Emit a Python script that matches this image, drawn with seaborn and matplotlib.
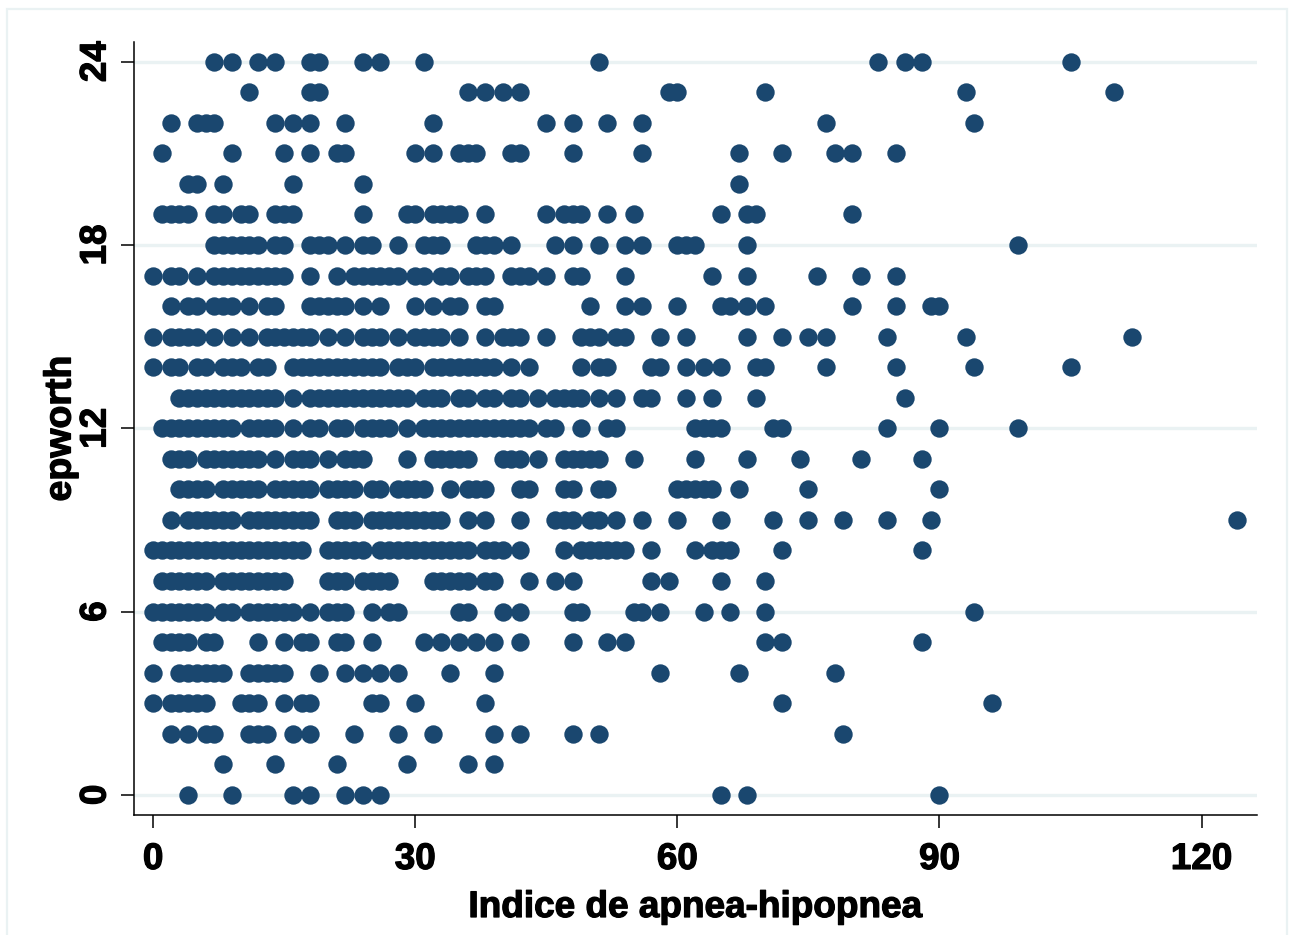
#!/usr/bin/env python3
# -*- coding: utf-8 -*-
"""Epworth score against apnea-hypopnea index, Stata s2color look."""

import pandas as pd
import seaborn as sns
import matplotlib.pyplot as plt
import matplotlib.patheffects as pe
from matplotlib.patches import Rectangle

# ============================================================================
# DATA - apnea index values seen on each epworth row
# ============================================================================
row_24 = [7, 9, 12, 14, 18, 19, 24, 26, 31, 51, 83, 86, 88, 105]
row_23 = [11, 18, 19, 36, 38, 40, 42, 59, 60, 70, 93, 110]
row_22 = [2, 5, 6, 7, 14, 16, 18, 22, 32, 45, 48, 52, 56, 77, 94]
row_21 = [1, 9, 15, 18, 21, 22, 30, 32, 35, 36, 37, 41, 42, 48, 56, 67, 72, 78, 80, 85]
row_20 = [4, 5, 8, 16, 24, 67]
row_19 = [1, 2, 3, 4, 7, 8, 10, 11, 14, 15, 16, 24, 29, 30, 32, 33, 34, 35, 38,
          45, 47, 48, 49, 52, 55, 65, 68, 69, 80]
row_18 = [7, 8, 9, 10, 11, 12, 14, 15, 18, 19, 20, 22, 24, 25, 28, 31, 32, 33,
          37, 38, 39, 41, 46, 48, 51, 54, 56, 60, 61, 62, 68, 99]
row_17 = [0, 2, 3, 5, 7, 8, 9, 10, 11, 12, 13, 14, 15, 18, 21, 23, 24, 25, 26, 27, 28,
          30, 31, 33, 34, 36, 37, 38, 41, 42, 43, 45, 48, 49, 54, 64, 68, 76, 81, 85]
row_16 = [2, 4, 5, 7, 8, 9, 11, 13, 14, 18, 19, 20, 21, 22, 24, 26, 30, 32, 34, 35,
          38, 39, 50, 54, 56, 60, 65, 66, 68, 70, 80, 85, 89, 90]
row_15 = [0, 2, 3, 4, 5, 7, 9, 11, 13, 14, 15, 16, 17, 18, 20, 22, 24, 25, 26, 28,
          30, 31, 32, 33, 35, 38, 40, 41, 42, 45, 49, 50, 51, 53, 54, 58, 61, 68,
          72, 75, 77, 84, 93, 112]
row_14 = [0, 2, 3, 5, 6, 8, 9, 10, 12, 13, 16, 17, 18, 19, 20, 21, 22, 23, 24, 25, 26,
          28, 29, 30, 32, 33, 34, 35, 36, 37, 38, 39, 41, 43, 49, 51, 52, 57, 58,
          61, 63, 65, 69, 70, 77, 85, 94, 105]
row_13 = [3, 4, 5, 6, 7, 8, 9, 10, 11, 12, 13, 14, 16, 18, 19, 20, 21, 22, 23, 24, 25,
          26, 27, 28, 29, 31, 32, 33, 35, 36, 38, 39, 41, 42, 44, 46, 47, 48, 49,
          51, 53, 56, 57, 61, 64, 69, 86]
row_12 = [1, 2, 3, 4, 5, 6, 7, 8, 9, 11, 12, 13, 14, 16, 18, 19, 21, 22, 24, 25, 26, 27,
          29, 31, 32, 33, 34, 35, 36, 37, 38, 39, 40, 41, 42, 43, 45, 46, 49, 52,
          53, 62, 63, 64, 65, 71, 72, 84, 90, 99]
row_11 = [2, 3, 4, 6, 7, 8, 9, 10, 11, 12, 14, 16, 17, 18, 20, 22, 23, 24, 29, 32, 33,
          34, 35, 36, 40, 41, 42, 44, 47, 48, 49, 50, 51, 55, 62, 68, 74, 81, 88]
row_10 = [3, 4, 5, 6, 8, 9, 10, 11, 12, 14, 15, 16, 17, 18, 20, 21, 22, 23, 25, 26,
          28, 29, 30, 31, 34, 36, 37, 38, 42, 43, 47, 48, 51, 52, 60, 61, 62, 63,
          64, 67, 75, 90]
row_9 = [2, 4, 5, 6, 7, 8, 9, 11, 12, 13, 14, 15, 16, 17, 18, 21, 22, 23, 25, 26, 27,
         28, 29, 30, 31, 32, 33, 36, 38, 42, 46, 47, 48, 50, 51, 53, 56, 60, 65,
         71, 75, 79, 84, 89, 124]
row_8 = [0, 1, 2, 3, 4, 5, 6, 7, 8, 9, 10, 11, 12, 13, 14, 15, 16, 17, 20, 21, 22, 23, 24,
         26, 27, 28, 29, 30, 31, 32, 33, 34, 35, 36, 38, 39, 40, 42, 47, 49, 50,
         51, 52, 53, 54, 57, 62, 64, 65, 66, 72, 88]
row_7 = [1, 2, 3, 4, 5, 6, 8, 9, 10, 11, 12, 13, 14, 15, 20, 21, 22, 24, 25, 26, 27,
         32, 33, 34, 35, 36, 38, 39, 43, 46, 48, 57, 59, 65, 70]
row_6 = [0, 1, 2, 3, 4, 5, 6, 8, 9, 11, 12, 13, 14, 15, 16, 18, 20, 21, 22, 25, 27, 28,
         35, 36, 40, 42, 48, 49, 55, 56, 58, 63, 66, 70, 94]
row_5 = [1, 2, 3, 4, 6, 7, 12, 15, 17, 18, 21, 22, 25, 31, 33, 35, 37, 39, 42, 48, 52,
         54, 70, 72, 88]
row_4 = [0, 3, 4, 5, 6, 7, 8, 11, 12, 13, 14, 15, 19, 22, 24, 26, 28, 34, 39, 58, 67, 78]
row_3 = [0, 2, 3, 4, 5, 6, 10, 11, 12, 15, 17, 18, 25, 26, 30, 38, 72, 96]
row_2 = [2, 4, 6, 7, 11, 12, 13, 16, 18, 23, 28, 32, 39, 42, 48, 51, 79]
row_1 = [8, 14, 21, 29, 36, 39]
row_0 = [4, 9, 16, 18, 22, 24, 26, 65, 68, 90]

rows = {24: row_24, 23: row_23, 22: row_22, 21: row_21, 20: row_20, 19: row_19,
        18: row_18, 17: row_17, 16: row_16, 15: row_15, 14: row_14, 13: row_13,
        12: row_12, 11: row_11, 10: row_10, 9: row_9, 8: row_8, 7: row_7,
        6: row_6, 5: row_5, 4: row_4, 3: row_3, 2: row_2, 1: row_1, 0: row_0}

x_ticks = [0, 30, 60, 90, 120]
y_ticks = [0, 6, 12, 18, 24]

df = pd.DataFrame([(x, y) for y, xs in rows.items() for x in xs],
                  columns=["ahi", "epworth"])

# ============================================================================
# PLOT
# ============================================================================
NAVY = "#1a476f"
GRID = "#eaf2f3"

sns.set_theme(style="white")
plt.rcParams["font.family"] = ["Liberation Sans", "DejaVu Sans"]
plt.rcParams["font.weight"] = "bold"
plt.rcParams["text.color"] = "black"
plt.rcParams["axes.labelcolor"] = "black"

fig = plt.figure(figsize=(12.9, 9.35), dpi=100)
W, H = 1290, 935
ax = fig.add_axes([133.5 / W, 1 - 815 / H, (1257 - 133.5) / W, (815 - 42) / H])

# faint outer frame of the graph region, bottom edge runs off the canvas
fig.add_artist(Rectangle((7 / W, -10 / H), 1280 / W, (10 + 926) / H, transform=fig.transFigure,
                         fill=False, edgecolor=GRID, linewidth=1.6))

sns.scatterplot(data=df, x="ahi", y="epworth", ax=ax, s=175, color=NAVY,
                edgecolor=NAVY, linewidth=0, alpha=1, zorder=3)

ax.set_xlim(-2.25, 126.34)
ax.set_ylim(-0.66, 24.645)
ax.set_xticks(x_ticks)
ax.set_yticks(y_ticks)
ax.grid(axis="y", color=GRID, linewidth=2.4)
ax.grid(axis="x", visible=False)
ax.set_axisbelow(True)

sns.despine(ax=ax)
for side in ["left", "bottom"]:
    ax.spines[side].set_linewidth(1.1)
    ax.spines[side].set_color("black")

ax.tick_params(axis="both", length=9.4, width=1.1, color="black", bottom=True, left=True,
               labelsize=26.5, labelcolor="black")
ax.tick_params(axis="x", pad=10)
ax.tick_params(axis="y", pad=5)
plt.setp(ax.get_yticklabels(), rotation=90, va="center")

ax.set_xlabel("Indice de apnea-hipopnea", fontsize=26.6, fontweight="bold", labelpad=9.4)
ax.set_ylabel("epworth", fontsize=27, fontweight="bold", labelpad=0)

# thicken the lettering a little, the original is heavier than plain bold
fat = [pe.withStroke(linewidth=0.9, foreground="black")]
for txt in ax.get_xticklabels() + ax.get_yticklabels() + [ax.xaxis.label, ax.yaxis.label]:
    txt.set_path_effects(fat)

fig.savefig("out.png", dpi=100, facecolor="white")
plt.close(fig)
